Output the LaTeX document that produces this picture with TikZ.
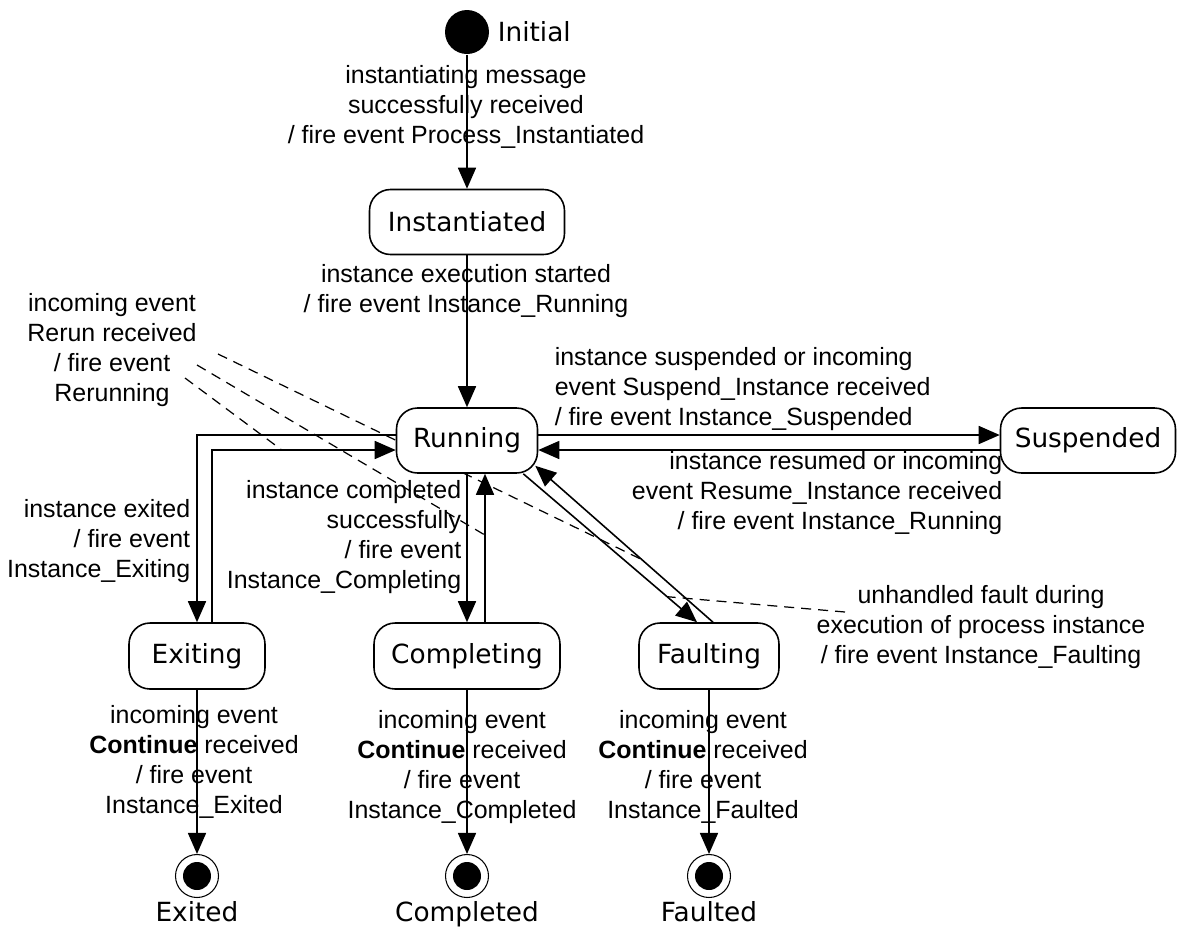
\documentclass[tikz,border=0pt]{standalone}
\usepackage{fontspec}
\setmainfont{Liberation Sans}
\newfontfamily\statefont{DejaVu Sans}
\usetikzlibrary{positioning, arrows.meta, backgrounds}

\begin{document}
\begin{tikzpicture}[x=0.02cm, y=-0.02cm, line width=0.9pt,
  >={Triangle[length=0.42cm,width=0.36cm]},
  state node/.style={rectangle, rounded corners=0.42cm, draw, fill=white,
    minimum height=1.3cm, inner sep=0pt, font=\statefont\fontsize{15}{18}\selectfont},
  final node/.style={circle, draw, fill=white, minimum size=0.86cm, inner sep=0pt,
    line width=0.6pt, path picture={\fill[black] (path picture bounding box.center) circle (0.28cm);}},
  state text/.style={inner sep=0pt, font=\statefont\fontsize{15}{18}\selectfont},
  label text/.style={inner sep=0pt, align=center, font=\fontsize{14.2}{17.1}\selectfont},
  note line/.style={dash pattern=on 0.2cm off 0.14cm, line width=0.7pt}]

\useasboundingbox (0,0) rectangle (1177,931);

\node[circle, fill=black, minimum size=0.88cm, inner sep=0pt] (init) at (467,32) {};
\node[state text, anchor=west] (initlbl) at (497,32) {Initial};

\node[state node, minimum width=3.9cm] (inst) at (467,222) {Instantiated};
\node[state node, minimum width=2.82cm] (run) at (467,440.5) {Running};
\node[state node, minimum width=3.5cm] (susp) at (1088,440.5) {Suspended};
\node[state node, minimum width=2.72cm, minimum height=1.32cm] (exit) at (197,656) {Exiting};
\node[state node, minimum width=3.72cm, minimum height=1.32cm] (comp) at (467,656) {Completing};
\node[state node, minimum width=2.8cm, minimum height=1.32cm] (fault) at (709,656) {Faulting};

\node[final node] (exited) at (197,876) {};
\node[final node] (completed) at (467,876) {};
\node[final node] (faulted) at (709,876) {};
\node[state text, below=0.06cm of exited] (exitedlbl) {Exited};
\node[state text, below=0.06cm of completed] (completedlbl) {Completed};
\node[state text, below=0.06cm of faulted] (faultedlbl) {Faulted};

\draw[->] (init) -- (inst);
\draw[->] (inst) -- (run);
\draw[->] ([yshift=0.11cm]run.west) -| (exit.north);
\draw[->] ([xshift=0.3cm]exit.north) |- coordinate[pos=0.69] (exback) ([yshift=-0.19cm]run.west);
\draw[->] (run) -- (comp);
\draw[->] ([xshift=0.36cm]comp.north) -- coordinate[pos=0.587] (compback) ([xshift=0.36cm]comp.north |- run.south);
\draw[->] ([xshift=-0.3cm]run.south east) -- coordinate[pos=0.828] (runfault) ([xshift=-0.24cm]fault.north);
\draw[->] ([xshift=0.08cm]fault.north) -- coordinate[pos=0.4] (faultback) ([xshift=-0.06cm,yshift=0.16cm]run.south east);
\draw[->] ([yshift=0.11cm]run.east) -- ([yshift=0.11cm]run.east -| susp.west);
\draw[->] ([yshift=-0.19cm]susp.west) -- ([yshift=-0.19cm]run.east);
\draw[->] (exit) -- (exited);
\draw[->] (comp) -- (completed);
\draw[->] (fault) -- (faulted);

\node[label text] (lblinit) at (466,107) {instantiating message\\successfully received\\/ fire event Process\_Instantiated};
\node[label text] (lblstart) at (466,291) {instance execution started\\/ fire event Instance\_Running};
\node[label text] (lblrerun) at (112,350) {incoming event\\Rerun received\\/ fire event\\Rerunning};
\node[label text, anchor=west, align=left] (lblsusp) at (554,389) {instance suspended or incoming\\event Suspend\_Instance received\\/ fire event Instance\_Suspended};
\node[label text, anchor=east, align=right] (lblresume) at (1003,493) {instance resumed or incoming\\event Resume\_Instance received\\/ fire event Instance\_Running};
\node[label text, anchor=east, align=right] (lblexiting) at (191,541) {instance exited\\/ fire event\\Instance\_Exiting};
\node[label text, anchor=east, align=right] (lblcompleting) at (462,537) {instance completed\\successfully\\/ fire event\\Instance\_Completing};
\node[label text] (lblfault) at (981,627) {unhandled fault during\\execution of process instance\\/ fire event Instance\_Faulting};
\node[label text] (lblexited) at (194,762) {incoming event\\\textbf{Continue} received\\/ fire event\\Instance\_Exited};
\node[label text] (lblcompleted) at (462,767) {incoming event\\\textbf{Continue} received\\/ fire event\\Instance\_Completed};
\node[label text] (lblfaulted) at (703,767) {incoming event\\\textbf{Continue} received\\/ fire event\\Instance\_Faulted};

\coordinate (rr1) at (218,354);
\coordinate (rr2) at (197,365);
\coordinate (rr3) at (185,378);
\coordinate (uf) at (845,612);
\begin{scope}[on background layer]
\draw[note line] (rr1) -- (faultback);
\draw[note line] (rr2) -- (compback);
\draw[note line] (rr3) -- (exback);
\draw[note line] (uf) -- (runfault);
\end{scope}

\end{tikzpicture}
\end{document}
